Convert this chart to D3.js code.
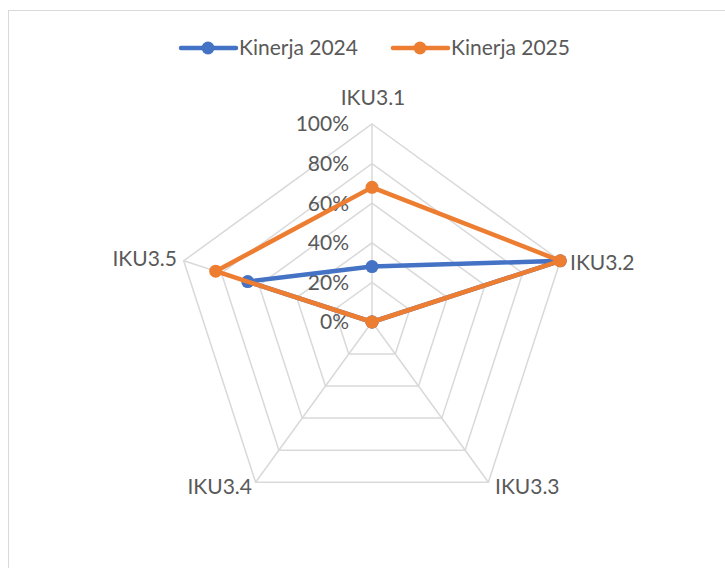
<!DOCTYPE html>
<html><head><meta charset="utf-8">
<script src="https://cdn.jsdelivr.net/npm/d3@7"></script>
<style>
body{margin:0;background:#fff;}
text{font-family:Lato,"Open Sans",sans-serif;fill:#595959;}
</style></head>
<body><svg id="c" width="725" height="568"></svg>
<script>
const categories = ["IKU3.1","IKU3.2","IKU3.3","IKU3.4","IKU3.5"];
const seriesNames = ["Kinerja 2024","Kinerja 2025"];
const values2024 = [0.28, 1.00, 0, 0, 0.66];
const values2025 = [0.68, 1.00, 0, 0, 0.83];
const tickValues = [0, 0.2, 0.4, 0.6, 0.8, 1.0];
const colors = ["#4472C4","#ED7D31"];

const svg = d3.select("#c");
svg.append("rect").attr("x",8.5).attr("y",10.5).attr("width",730).attr("height",570)
  .attr("fill","#fff").attr("stroke","#d9d9d9").attr("stroke-width",1);

const cx = 372, cy = 322;
const r = d3.scaleLinear().domain([0,1]).range([0,198]);
const ang = d3.scaleLinear().domain([0,categories.length]).range([0,2*Math.PI]);
const pt = (i,v) => [cx + r(v)*Math.sin(ang(i)), cy - r(v)*Math.cos(ang(i))];
const FS = 21;

const g = svg.append("g");
// grid rings
tickValues.filter(t=>t>0).forEach(t=>{
  g.append("path").attr("d", d3.line()(categories.map((c,i)=>pt(i,t))) + "Z")
   .attr("fill","none").attr("stroke","#d9d9d9").attr("stroke-width",1.5);
});
// spokes
categories.forEach((c,i)=>{
  g.append("line").attr("x1",cx).attr("y1",cy)
   .attr("x2",pt(i,1)[0]).attr("y2",pt(i,1)[1])
   .attr("stroke","#d9d9d9").attr("stroke-width",1.5);
});
// tick labels
tickValues.forEach(t=>{
  g.append("text").attr("x",349).attr("y",cy - r(t)).attr("dy","0.35em")
   .attr("text-anchor","end").attr("font-size",FS).text(d3.format(".0%")(t));
});
// category labels
const labelPos = [
  {x:373, y:98, a:"middle"},
  {x:570, y:263, a:"start"},
  {x:495, y:487, a:"start"},
  {x:252, y:487, a:"end"},
  {x:177, y:259, a:"end"}
];
categories.forEach((c,i)=>{
  g.append("text").attr("x",labelPos[i].x).attr("y",labelPos[i].y).attr("dy","0.35em")
   .attr("text-anchor",labelPos[i].a).attr("font-size",FS).text(c);
});
// series
[values2024, values2025].forEach((vals,k)=>{
  const pts = vals.map((v,i)=>pt(i,v));
  g.append("path").attr("d", d3.line()(pts)+"Z").attr("fill","none")
   .attr("stroke",colors[k]).attr("stroke-width",4.5).attr("stroke-linejoin","round");
  g.selectAll(null).data(pts).enter().append("circle")
   .attr("cx",d=>d[0]).attr("cy",d=>d[1]).attr("r",6.5).attr("fill",colors[k]);
});
// legend
const legX = [181, 393];
seriesNames.forEach((s,k)=>{
  const lg = svg.append("g").attr("transform",`translate(${legX[k]},48)`);
  lg.append("line").attr("x1",0).attr("x2",55).attr("y1",0).attr("y2",0)
    .attr("stroke",colors[k]).attr("stroke-width",4.5).attr("stroke-linecap","round");
  lg.append("circle").attr("cx",27).attr("cy",0).attr("r",6.5).attr("fill",colors[k]);
  lg.append("text").attr("x",58).attr("y",0).attr("dy","0.35em").attr("font-size",FS).text(s);
});
</script></body></html>
